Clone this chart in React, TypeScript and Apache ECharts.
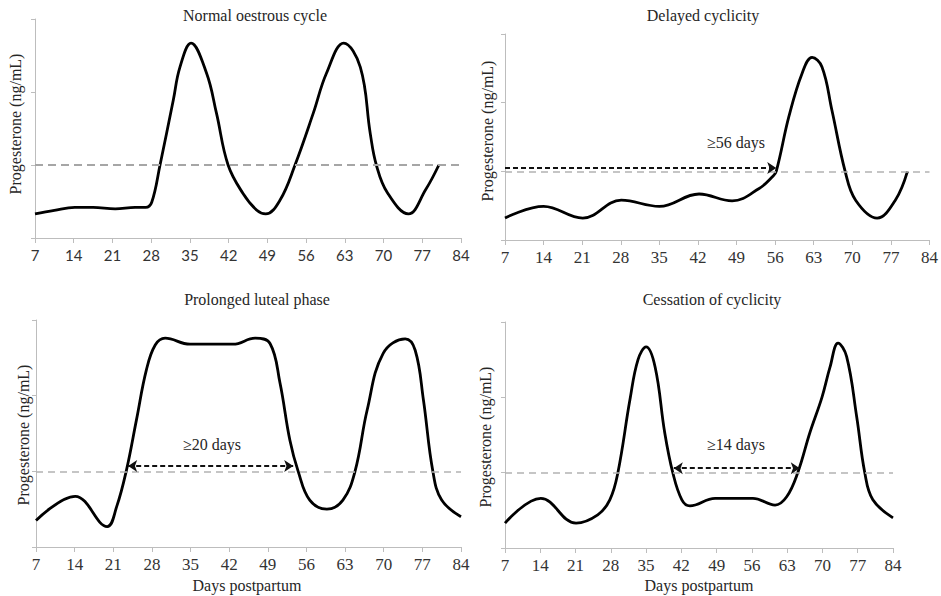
import React, { useEffect, useRef } from "react";
import * as echarts from "echarts";

// Day ticks shared by every panel
const dayTicks = [7, 14, 21, 28, 35, 42, 49, 56, 63, 70, 77, 84];
const threshold = 1;

// Normal oestrous cycle
const normalDays = [7, 10.5, 14.2, 17.5, 21.5, 25.1, 27, 28.1, 29.6, 32, 33.2, 35.2, 38, 39.8, 41.9, 44.6, 47.1, 48.7, 51.3, 54, 57.3, 59.7, 62.8, 65.8, 67.6, 68.7, 70.7, 74.5, 77.6, 80];
const normalP4 = [0.33, 0.38, 0.42, 0.42, 0.4, 0.42, 0.42, 0.49, 1.0, 1.89, 2.34, 2.67, 2.26, 1.71, 1.0, 0.61, 0.38, 0.33, 0.52, 1.0, 1.71, 2.26, 2.67, 2.34, 1.43, 1.0, 0.62, 0.33, 0.66, 1.0];

// Delayed cyclicity
const delayedDays = [7, 14, 21.1, 28.1, 35, 42.2, 48.2, 53.1, 55.5, 56.2, 58.5, 60.9, 62.7, 64.5, 66.3, 68.7, 70.6, 74.5, 77.8, 80];
const delayedP4 = [0.32, 0.49, 0.32, 0.58, 0.49, 0.67, 0.57, 0.75, 0.92, 1.0, 1.8, 2.43, 2.66, 2.52, 1.89, 1.0, 0.58, 0.32, 0.58, 1.0];
const delayedSpan = [7, 56.2];

// Prolonged luteal phase
const prolongedDays = [7, 14.1, 19.9, 21.6, 23.4, 25.2, 27, 28.6, 30.4, 34.9, 42.7, 46.7, 49.4, 51.2, 53, 54.5, 56.6, 59.7, 62.6, 64.8, 67, 69.9, 73.9, 75.7, 77.2, 78.9, 80.5, 84];
const prolongedP4 = [0.35, 0.67, 0.27, 0.53, 1.02, 1.68, 2.34, 2.67, 2.76, 2.68, 2.68, 2.76, 2.69, 2.17, 1.41, 1.0, 0.62, 0.5, 0.62, 1.0, 1.81, 2.56, 2.75, 2.6, 1.94, 1.0, 0.62, 0.4];
const prolongedSpan = [23.7, 53.6];

// Cessation of cyclicity
const cessationDays = [7, 14.1, 21.1, 25.4, 27.8, 29.4, 31.8, 33.4, 35, 36.8, 38.7, 40.3, 42.1, 43.7, 48.7, 56.2, 60.6, 62.9, 65.1, 67.5, 69.9, 71.5, 73.1, 74.8, 76.8, 78.4, 80, 84];
const cessationP4 = [0.33, 0.66, 0.33, 0.44, 0.64, 1.0, 1.97, 2.5, 2.67, 2.4, 1.53, 1.0, 0.64, 0.56, 0.66, 0.66, 0.57, 0.68, 1.0, 1.53, 2.0, 2.4, 2.72, 2.54, 1.74, 1.0, 0.64, 0.4];
const cessationSpan = [40.5, 65.5];

const titles = ["Normal oestrous cycle", "Delayed cyclicity", "Prolonged luteal phase", "Cessation of cyclicity"];
const spanLabels = ["≥56 days", "≥20 days", "≥14 days"];
const yTitle = "Progesterone (ng/mL)";
const xTitle = "Days postpartum";

const SERIF = "'Liberation Serif', 'Times New Roman', serif";
const SANS = "Lato, 'Liberation Sans', sans-serif";

const pairs = (xs: number[], ys: number[]) => xs.map((x, i) => [x, ys[i]]);

export default function App() {
  const ref = useRef<HTMLDivElement>(null);

  useEffect(() => {
    if (!ref.current) return;
    const chart = echarts.init(ref.current, null, { renderer: "svg" });

    const grids = [
      { left: 35, right: 480, top: 19, bottom: 358 },
      { left: 505, right: 10, top: 34, bottom: 356 },
      { left: 36, right: 480, top: 320, bottom: 49 },
      { left: 505, right: 48, top: 322, bottom: 48 },
    ];

    const xAxes = grids.map((_, i) => ({
      type: "value",
      gridIndex: i,
      min: dayTicks[0],
      max: dayTicks[dayTicks.length - 1],
      interval: 7,
      axisLine: { show: true, lineStyle: { color: "#bdbdbd", width: 1 } },
      axisTick: { show: true, length: 5, lineStyle: { color: "#bdbdbd" } },
      splitLine: { show: false },
      axisLabel: {
        margin: 9,
        color: "#333",
        fontFamily: i === 0 ? SANS : SERIF,
        fontSize: i === 0 ? 15 : 17,
      },
    }));

    const yAxes = grids.map((_, i) => ({
      type: "value",
      gridIndex: i,
      min: 0,
      max: 3,
      interval: 1,
      axisLine: { show: true, lineStyle: { color: "#bdbdbd", width: 1 } },
      axisTick: { show: true, length: 4, lineStyle: { color: "#bdbdbd" } },
      splitLine: { show: false },
      axisLabel: { show: false },
    }));

    const curves = [
      pairs(normalDays, normalP4),
      pairs(delayedDays, delayedP4),
      pairs(prolongedDays, prolongedP4),
      pairs(cessationDays, cessationP4),
    ];

    const thresholdStyle = (i: number) =>
      i === 0
        ? { color: "#a6a6a6", width: 2.2, type: [8, 5] }
        : { color: "#b3b3b3", width: 1.5, type: [7, 5] };

    const arrowStyle = { color: "#111", width: 1.8, type: [5, 3] };

    const spans: (number[] | null)[] = [null, delayedSpan, prolongedSpan, cessationSpan];
    const spanLevels = [0, 1.05, 1.07, 1.06];

    const series: any[] = [];
    curves.forEach((data, i) => {
      const markData: any[] = [
        {
          yAxis: threshold,
          symbol: "none",
          lineStyle: thresholdStyle(i),
        },
      ];
      const span = spans[i];
      if (span) {
        markData.push([
          { coord: [span[0], spanLevels[i]], symbol: i === 1 ? "none" : "arrow", lineStyle: arrowStyle },
          { coord: [span[1], spanLevels[i]], symbol: "arrow" },
        ]);
      }
      series.push({
        type: "line",
        xAxisIndex: i,
        yAxisIndex: i,
        data,
        smooth: 0.4,
        showSymbol: false,
        symbol: "none",
        lineStyle: { color: "#000", width: 2.8 },
        z: 3,
        markLine: {
          silent: true,
          animation: false,
          symbol: ["none", "none"],
          symbolSize: [9, 9],
          label: { show: false },
          emphasis: { disabled: true },
          data: markData,
        },
      });
    });

    const text = (t: string, x: number, y: number, size: number, rot = 0) => ({
      type: "text",
      x,
      y,
      rotation: rot,
      silent: true,
      style: {
        text: t,
        x: 0,
        y: 0,
        align: "center",
        verticalAlign: "middle",
        fill: "#262626",
        font: `${size}px ${SERIF}`,
      },
    });

    const graphics = [
      text(titles[0], 255, 15, 16),
      text(titles[1], 703, 15, 16),
      text(titles[2], 257, 299, 16),
      text(titles[3], 712, 299, 16),
      text(yTitle, 15, 124, 16, Math.PI / 2),
      text(yTitle, 487, 131, 16, Math.PI / 2),
      text(yTitle, 23, 435, 16, Math.PI / 2),
      text(yTitle, 485, 437, 16, Math.PI / 2),
      text(xTitle, 247, 585, 16),
      text(xTitle, 699, 585, 16),
      text(spanLabels[0], 736, 142, 16),
      text(spanLabels[1], 212, 444, 16),
      text(spanLabels[2], 736, 444, 16),
    ];

    chart.setOption({
      animation: false,
      backgroundColor: "#fff",
      grid: grids,
      xAxis: xAxes,
      yAxis: yAxes,
      series,
      graphic: graphics,
    });

    return () => chart.dispose();
  }, []);

  return (
    <div
      ref={ref}
      style={{ position: "fixed", left: 0, top: 0, width: 941, height: 596, background: "#fff" }}
    />
  );
}
